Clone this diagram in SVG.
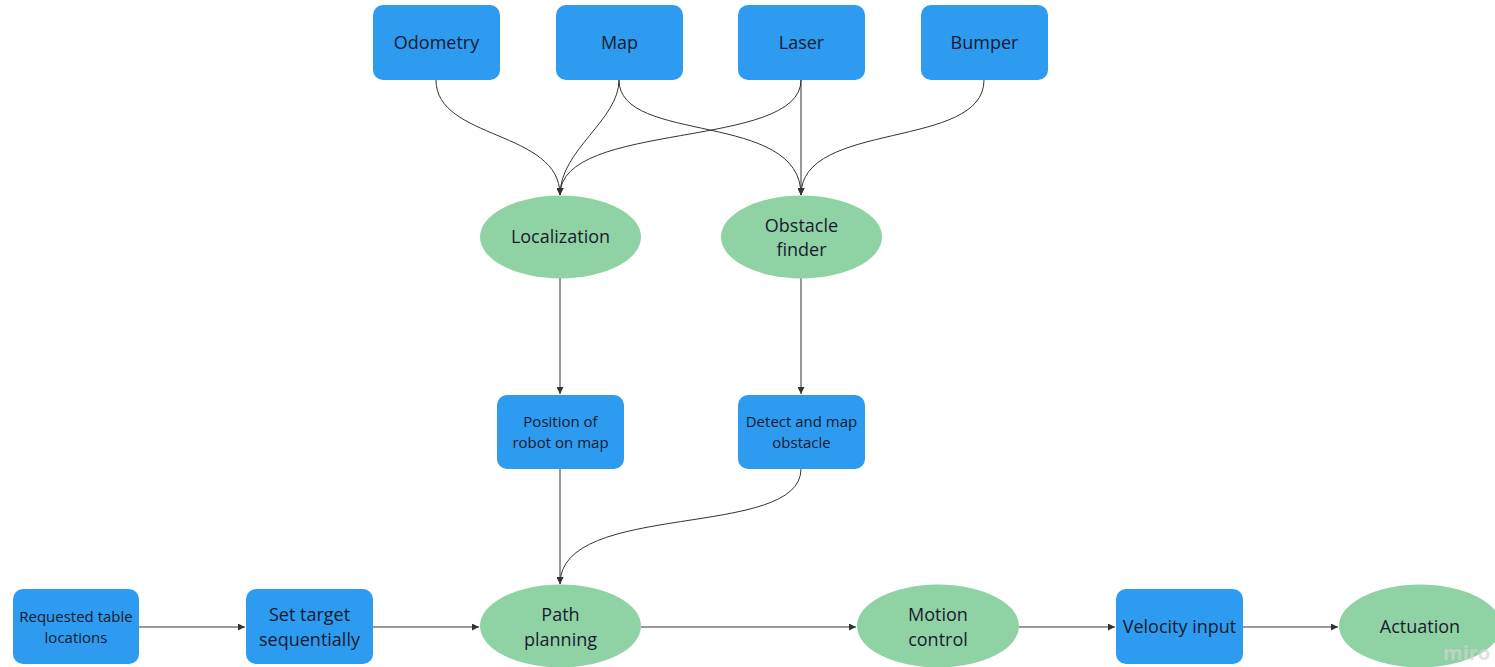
<svg xmlns="http://www.w3.org/2000/svg" width="1495" height="667" viewBox="0 0 1495 667">
<defs>
<marker id="arr" viewBox="0 0 10 10" refX="10" refY="5" markerWidth="7" markerHeight="7" orient="auto" markerUnits="userSpaceOnUse">
<path d="M0,0 L10,5 L0,10 z" fill="#333"/>
</marker>
<style>
.box{fill:#2D9BF0}
.ell{fill:#8FD3A5}
.t{font-family:"Open Sans","Liberation Sans",sans-serif;fill:#1a1a2e;text-anchor:middle}
.l{font-size:18px}
.s{font-size:15px}
.c{fill:none;stroke:#333;stroke-width:1;marker-end:url(#arr)}
</style>
</defs>
<rect width="1495" height="667" fill="#fff"/>
<g id="connectors">
<path class="c" d="M436,80 C436,140 560,130 560,195"/>
<path class="c" d="M619,80 C619,120 560,150 560,195"/>
<path class="c" d="M619,80 C619,145 801,110 801,195"/>
<path class="c" d="M801,80 C801,150 560,120 560,195"/>
<path class="c" d="M801,80 L801,195"/>
<path class="c" d="M984,80 C984,150 801,120 801,195"/>
<path class="c" d="M560,278 L560,394"/>
<path class="c" d="M801,278 L801,394"/>
<path class="c" d="M560,469 L560,584"/>
<path class="c" d="M801,469 C801,540 560,500 560,584"/>
<path class="c" d="M139,627 L245,627"/>
<path class="c" d="M373,627 L479,627"/>
<path class="c" d="M641,627 L856,627"/>
<path class="c" d="M1019,627 L1115,627"/>
<path class="c" d="M1243,627 L1338,627"/>
</g>
<g id="odometry"><rect class="box" x="373" y="5" width="127" height="75" rx="10"/><text class="t l" x="436.5" y="49">Odometry</text></g>
<g id="map"><rect class="box" x="556" y="5" width="127" height="75" rx="10"/><text class="t l" x="619.5" y="49">Map</text></g>
<g id="laser"><rect class="box" x="738" y="5" width="127" height="75" rx="10"/><text class="t l" x="801.5" y="49">Laser</text></g>
<g id="bumper"><rect class="box" x="921" y="5" width="127" height="75" rx="10"/><text class="t l" x="984.5" y="49">Bumper</text></g>
<g id="localization"><ellipse class="ell" cx="560.5" cy="237" rx="80.5" ry="41.5"/><text class="t l" x="560.5" y="243">Localization</text></g>
<g id="obstacle-finder"><ellipse class="ell" cx="801.5" cy="237" rx="80.5" ry="41.5"/><text class="t l" x="801.5" y="232">Obstacle</text><text class="t l" x="801.5" y="256">finder</text></g>
<g id="position"><rect class="box" x="497" y="395" width="127" height="74" rx="10"/><text class="t s" x="560.5" y="427">Position of</text><text class="t s" x="560.5" y="448">robot on map</text></g>
<g id="detect"><rect class="box" x="738" y="395" width="127" height="74" rx="10"/><text class="t s" x="801.5" y="427">Detect and map</text><text class="t s" x="801.5" y="448">obstacle</text></g>
<g id="requested"><rect class="box" x="13" y="589" width="126" height="75" rx="10"/><text class="t" font-size="15" x="76" y="622">Requested table</text><text class="t" font-size="15" x="76" y="643">locations</text></g>
<g id="set-target"><rect class="box" x="246" y="589" width="127" height="75" rx="10"/><text class="t l" x="309.5" y="621">Set target</text><text class="t l" x="309.5" y="646">sequentially</text></g>
<g id="path-planning"><ellipse class="ell" cx="560.5" cy="626" rx="80.5" ry="41.5"/><text class="t l" x="560.5" y="621">Path</text><text class="t l" x="560.5" y="646">planning</text></g>
<g id="motion-control"><ellipse class="ell" cx="938" cy="626" rx="81" ry="41.5"/><text class="t l" x="938" y="621">Motion</text><text class="t l" x="938" y="646">control</text></g>
<g id="velocity"><rect class="box" x="1116" y="589" width="127" height="75" rx="10"/><text class="t l" x="1179.5" y="633">Velocity input</text></g>
<g id="actuation"><ellipse class="ell" cx="1420" cy="626" rx="81" ry="41.5"/><text class="t l" x="1420" y="633">Actuation</text></g>
<text font-family="'Open Sans','Liberation Sans',sans-serif" font-size="20" font-weight="bold" fill="#d4d4d4" fill-opacity="0.7" x="1443" y="660">miro</text>
</svg>
